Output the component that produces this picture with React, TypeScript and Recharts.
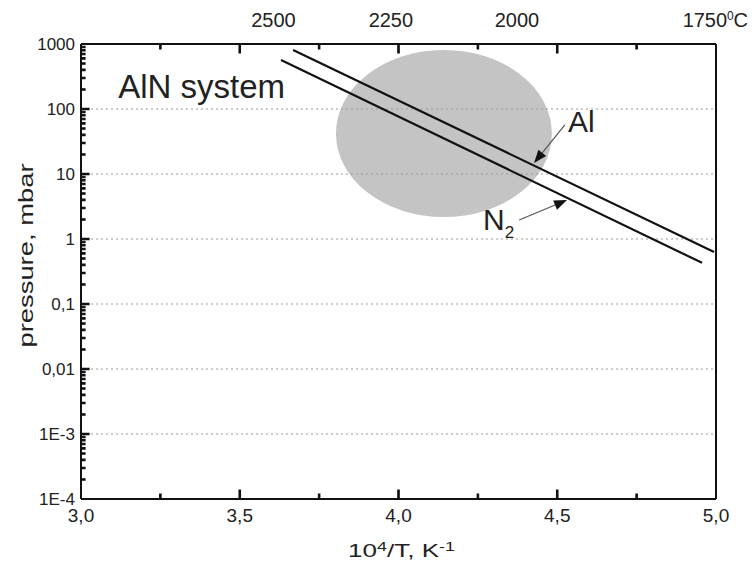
import React from 'react';
import { ComposedChart, Line, XAxis, YAxis, ReferenceLine, ReferenceArea, ReferenceDot } from 'recharts';

const FONT = '"Liberation Sans", Arial, sans-serif';

// bottom axis: 10^4/T
const xTicks = [3, 3.25, 3.5, 3.75, 4, 4.25, 4.5, 4.75, 5];
const xLabels = ['3,0', '', '3,5', '', '4,0', '', '4,5', '', '5,0'];

// top axis: temperature in °C
const topMarkTicks = [3.25, 3.5, 3.75, 4, 4.25, 4.5, 4.75];
const topLabelPos = [3.606, 3.976, 4.373, 4.965];
const topLabels = ['2500', '2250', '2000', '1750'];

// pressure axis (log)
const yDecades = [1e-4, 1e-3, 0.01, 0.1, 1, 10, 100, 1000];
const yLabels = ['1E-4', '1E-3', '0,01', '0,1', '1', '10', '100', '1000'];
const yMinorSteps = [2, 3, 4, 5, 6, 7, 8, 9];
const gridDecades = [1e-3, 0.01, 0.1, 1, 10, 100];

// vapour pressure lines
const alX = [3.668, 4.994];
const alP = [809, 0.63];
const n2X = [3.63, 4.956];
const n2P = [567, 0.43];

// grey growth region
const regionX = [3.803, 4.483];
const regionP = [2.18, 809];

// annotation arrows
const alArrowX = [4.524, 4.427];
const alArrowP = [56.8, 14.8];
const n2ArrowX = [4.38, 4.531];
const n2ArrowP = [1.96, 3.98];

const yMinorTicks = yDecades.slice(0, -1).flatMap((d) => yMinorSteps.map((m) => d * m));
const xInnerTicks = xTicks.slice(1, -1);

const alData = alX.map((x, i) => ({ x, p: alP[i] }));
const n2Data = n2X.map((x, i) => ({ x, p: n2P[i] }));

const isHalf = (v: number) => Math.abs(v * 2 - Math.round(v * 2)) < 1e-6;

const YTick = (props: any) => {
  const { x, y, payload } = props;
  const idx = yDecades.findIndex((d) => Math.abs(payload.value / d - 1) < 1e-6);
  if (idx < 0) return <g />;
  return (
    <text x={x - 6} y={y + 6} textAnchor="end" fontSize={17} fill="#222" fontFamily={FONT}>
      {yLabels[idx]}
    </text>
  );
};

const XTick = (props: any) => {
  const { x, y, payload } = props;
  const label = xLabels[xTicks.indexOf(payload.value)] || '';
  if (!label) return <g />;
  return (
    <text x={x} y={y + 23} textAnchor="middle" fontSize={19} fill="#222" fontFamily={FONT}>
      {label}
    </text>
  );
};

const TopTick = (props: any) => {
  const { x, y, payload } = props;
  const li = topLabelPos.indexOf(payload.value);
  if (li < 0) return <g />;
  const last = li === topLabels.length - 1;
  return (
    <g>
      <text x={x} y={y - 17} textAnchor="middle" fontSize={20} fill="#222" fontFamily={FONT}>
        {topLabels[li]}
      </text>
      {last && (
        <text x={x + 22} y={y - 17} textAnchor="start" fontSize={20} fill="#222" fontFamily={FONT}>
          <tspan fontSize={12} dy={-7}>0</tspan>
          <tspan dy={7}>C</tspan>
        </text>
      )}
    </g>
  );
};

const XTitle = (props: any) => {
  const { viewBox } = props;
  const cx = viewBox.x + viewBox.width / 2 + 3;
  const y = viewBox.y + 58;
  return (
    <text
      x={cx}
      y={y}
      textAnchor="middle"
      fontSize={19}
      fill="#222"
      fontFamily={FONT}
      textLength={107}
      lengthAdjust="spacingAndGlyphs"
    >
      10<tspan fontSize={13} dy={-6}>4</tspan>
      <tspan dy={6}>/T, K</tspan>
      <tspan fontSize={13} dy={-6}>-1</tspan>
    </text>
  );
};

const YTitle = (props: any) => {
  const { viewBox } = props;
  const x = viewBox.x + 12;
  const cy = viewBox.y + viewBox.height / 2 - 16;
  return (
    <text
      x={x}
      y={cy}
      transform={`rotate(-90 ${x} ${cy})`}
      textAnchor="middle"
      fontSize={20}
      fill="#222"
      fontFamily={FONT}
      textLength={184}
      lengthAdjust="spacingAndGlyphs"
    >
      pressure, mbar
    </text>
  );
};

const Ellipse = (props: any) => {
  const { x, y, width, height } = props;
  return <ellipse cx={x + width / 2} cy={y + height / 2} rx={width / 2} ry={height / 2} fill="#c4c4c4" />;
};

const Arrow = (props: any) => {
  const { x1, y1, x2, y2 } = props;
  const dx = x2 - x1;
  const dy = y2 - y1;
  const len = Math.sqrt(dx * dx + dy * dy);
  const ux = dx / len;
  const uy = dy / len;
  const hl = 13;
  const hw = 5;
  const bx = x2 - ux * hl;
  const by = y2 - uy * hl;
  return (
    <g>
      <line x1={x1} y1={y1} x2={bx} y2={by} stroke="#555" strokeWidth={1.2} />
      <polygon
        points={`${x2},${y2} ${bx - uy * hw},${by + ux * hw} ${bx + uy * hw},${by - ux * hw}`}
        fill="#111"
      />
    </g>
  );
};

// inward tick drawn as a small filled bar from a reference point; dx/dy = direction and length in px
const tickMark = (dx: number, dy: number) => (props: any) => {
  const h = 0.7;
  const ox = dy ? h : 0;
  const oy = dx ? h : 0;
  const cx = Number(props.cx);
  const cy = Number(props.cy);
  return (
    <polygon
      points={`${cx - ox},${cy - oy} ${cx + ox},${cy + oy} ${cx + dx + ox},${cy + dy + oy} ${cx + dx - ox},${cy + dy - oy}`}
      stroke="#111"
      strokeWidth={1.2}
      fill="#111"
    />
  );
};

const labelShape = (content: React.ReactNode) => (props: any) => (
  <text x={props.cx} y={props.cy} fontFamily={FONT} fill="#222">
    {content}
  </text>
);

export default function App() {
  return (
    <div style={{ width: 754, height: 567, background: '#fff' }}>
      <style>{'body{margin:0}'}</style>
      <ComposedChart width={754} height={567} margin={{ top: 14, right: 38, bottom: 8, left: 21 }}>
        <XAxis
          dataKey="x"
          type="number"
          domain={[3, 5]}
          ticks={xTicks}
          interval={0}
          allowDataOverflow
          height={60}
          tickSize={0}
          tickMargin={0}
          tickLine={false}
          tick={<XTick />}
          axisLine={{ stroke: '#111', strokeWidth: 2 }}
          label={XTitle}
        />
        <XAxis
          xAxisId="top"
          orientation="top"
          dataKey="x"
          type="number"
          domain={[3, 5]}
          ticks={topLabelPos}
          interval={0}
          allowDataOverflow
          height={30}
          tickSize={0}
          tickMargin={0}
          tickLine={false}
          tick={<TopTick />}
          axisLine={{ stroke: '#111', strokeWidth: 2 }}
        />
        <YAxis
          type="number"
          scale="log"
          domain={[1e-4, 1000]}
          ticks={yDecades}
          interval={0}
          allowDataOverflow
          width={60}
          tickSize={0}
          tickMargin={0}
          tickLine={false}
          tick={<YTick />}
          axisLine={{ stroke: '#111', strokeWidth: 2 }}
          label={YTitle}
        />
        <ReferenceArea
          x1={regionX[0]}
          x2={regionX[1]}
          y1={regionP[0]}
          y2={regionP[1]}
          shape={Ellipse}
          ifOverflow="visible"
        />
        {gridDecades.map((v) => (
          <ReferenceLine key={`g${v}`} y={v} stroke="#9a9a9a" strokeDasharray="2 3" strokeWidth={1} />
        ))}
        <ReferenceLine x={5} stroke="#111" strokeWidth={2} />
        {gridDecades.map((v) => (
          <ReferenceDot key={`ym${v}`} x={3} y={v} r={1} ifOverflow="visible" shape={tickMark(8, 0)} />
        ))}
        {yMinorTicks.map((v) => (
          <ReferenceDot key={`yn${v}`} x={3} y={v} r={1} ifOverflow="visible" shape={tickMark(4, 0)} />
        ))}
        {xInnerTicks.map((v) => (
          <ReferenceDot key={`xb${v}`} x={v} y={1e-4} r={1} ifOverflow="visible" shape={tickMark(0, isHalf(v) ? -9 : -5)} />
        ))}
        {topMarkTicks.map((v) => (
          <ReferenceDot key={`xt${v}`} x={v} y={1000} r={1} ifOverflow="visible" shape={tickMark(0, isHalf(v) ? 9 : 5)} />
        ))}
        <Line data={alData} dataKey="p" type="linear" stroke="#111" strokeWidth={2.2} dot={false} isAnimationActive={false} />
        <Line data={n2Data} dataKey="p" type="linear" stroke="#111" strokeWidth={2.2} dot={false} isAnimationActive={false} />
        <ReferenceLine
          segment={[
            { x: alArrowX[0], y: alArrowP[0] },
            { x: alArrowX[1], y: alArrowP[1] },
          ]}
          shape={Arrow}
        />
        <ReferenceLine
          segment={[
            { x: n2ArrowX[0], y: n2ArrowP[0] },
            { x: n2ArrowX[1], y: n2ArrowP[1] },
          ]}
          shape={Arrow}
        />
        <ReferenceDot x={3.117} y={147.6} r={0} shape={labelShape(<tspan fontSize={33}>AlN system</tspan>)} />
        <ReferenceDot x={4.534} y={44.3} r={0} shape={labelShape(<tspan fontSize={30}>Al</tspan>)} />
        <ReferenceDot
          x={4.266}
          y={1.374}
          r={0}
          shape={labelShape(
            <>
              <tspan fontSize={30}>N</tspan>
              <tspan fontSize={17} dy={8}>2</tspan>
            </>
          )}
        />
      </ComposedChart>
    </div>
  );
}
